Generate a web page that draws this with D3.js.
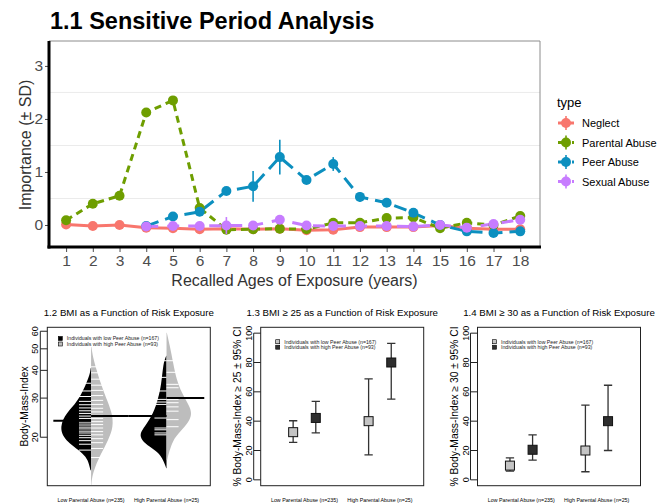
<!DOCTYPE html>
<html>
<head>
<meta charset="utf-8">
<script src="https://cdn.jsdelivr.net/npm/d3@7"></script>
<style>
  body { margin: 0; background: #fff; }
  text { font-family: "Liberation Sans", Arial, Helvetica, sans-serif; }
</style>
</head>
<body>
<div id="chart"></div>
<script>
// Data
//=================================
// 1.1 sensitive period analysis (importance, +/- SD)
var ages = [1, 2, 3, 4, 5, 6, 7, 8, 9, 10, 11, 12, 13, 14, 15, 16, 17, 18];
var types = ["Neglect", "Parental Abuse", "Peer Abuse", "Sexual Abuse"];
var neglect = [0.01, -0.02, 0.0, -0.05, -0.06, -0.08, -0.07, -0.08, -0.07, -0.1, -0.09, -0.04, -0.04, -0.04, -0.01, -0.06, -0.08, -0.08];
var neglectSd = [0.03, 0.03, 0.03, 0.03, 0.03, 0.03, 0.03, 0.03, 0.03, 0.03, 0.03, 0.03, 0.03, 0.03, 0.03, 0.03, 0.03, 0.03];
var parental = [0.09, 0.40, 0.55, 2.12, 2.35, 0.32, -0.09, -0.08, -0.07, -0.08, 0.04, 0.04, 0.13, 0.14, -0.06, 0.04, 0.0, 0.17];
var parentalSd = [0.03, 0.03, 0.03, 0.03, 0.03, 0.06, 0.03, 0.03, 0.03, 0.03, 0.03, 0.03, 0.03, 0.03, 0.03, 0.03, 0.03, 0.03];
var peer = [null, null, null, -0.02, 0.16, 0.25, 0.64, 0.73, 1.28, 0.85, 1.15, 0.53, 0.42, 0.23, 0.0, -0.12, -0.15, -0.12];
var peerSd = [null, null, null, 0.02, 0.03, 0.04, 0.04, 0.29, 0.33, 0.04, 0.13, 0.09, 0.03, 0.05, 0.02, 0.02, 0.02, 0.02];
var sexual = [null, null, null, -0.03, -0.02, -0.02, -0.01, -0.01, 0.1, -0.01, -0.02, -0.02, -0.02, -0.03, 0.0, -0.05, 0.02, 0.1];
var sexualSd = [null, null, null, 0.02, 0.02, 0.02, 0.16, 0.02, 0.03, 0.02, 0.02, 0.02, 0.02, 0.02, 0.02, 0.02, 0.02, 0.02];
var yTicks = [0, 1, 2, 3];
var yGrid = [0.5, 1.5, 2.5];

// bottom row shared labels
var parentalGroups = ["Low Parental Abuse (n=235)", "High Parental Abuse (n=25)"];
var peerGroups = ["Individuals with low Peer Abuse (n=167)", "Individuals with high Peer Abuse (n=93)"];

// 1.2 bean plot: density profiles (BMI, relative density)
var lowParLowPeerBmi = [14.2, 15.8, 16.9, 18.1, 19.4, 20.8, 22.3, 24.1, 25.7, 27.6, 30, 34.6, 38, 41];
var lowParLowPeerDens = [0.02, 0.1, 0.27, 0.57, 0.83, 0.97, 1.0, 0.93, 0.8, 0.6, 0.39, 0.17, 0.05, 0.01];
var lowParHighPeerBmi = [12.2, 13.2, 14.7, 16.9, 19.4, 22.3, 25.7, 30, 34.6, 40.6, 46, 51];
var lowParHighPeerDens = [0.01, 0.03, 0.13, 0.33, 0.57, 0.74, 0.7, 0.5, 0.33, 0.17, 0.06, 0.01];
var highParLowPeerBmi = [14.5, 15.2, 16.9, 18.1, 19.4, 20.8, 22.3, 25.7, 29.8, 34.6, 43.1, 46.5];
var highParLowPeerDens = [0.01, 0.06, 0.22, 0.56, 0.83, 0.89, 0.72, 0.43, 0.28, 0.17, 0.11, 0.01];
var highParHighPeerBmi = [15.8, 17.3, 19.4, 20.8, 22.3, 24.1, 25.7, 27.6, 31.7, 36.4, 43.1, 51.6, 59];
var highParHighPeerDens = [0.02, 0.09, 0.22, 0.39, 0.61, 0.78, 0.83, 0.76, 0.5, 0.33, 0.22, 0.11, 0.01];
// individual observations (bean lines)
var lowParLowPeerObs = [17.5, 18.6, 19.3, 19.9, 20.4, 20.9, 21.3, 21.8, 22.2, 22.7, 23.2, 23.7, 24.3, 24.9, 25.6, 26.3, 27.1, 28, 29, 30.5, 32.3, 35];
var lowParHighPeerObs = [16.2, 17.8, 18.9, 19.7, 20.5, 21.2, 22, 22.8, 23.5, 24.3, 25.1, 26, 27, 28.1, 29.3, 30.8, 32.5, 34.3, 36.5, 39, 41.5];
var highParLowPeerObs = [20.5, 20.9, 21.6, 22, 24.4, 28.1, 28.8, 29.6, 32.3, 37.2, 44.2];
var highParHighPeerObs = [22.3, 24, 26.2, 27.4, 28.6, 29.6, 33.4, 34.6, 39.2, 44.2];
// bean averages [low parental, high parental]
var bmiMeanLowPeer = [23.7, 24.9];
var bmiMeanHighPeer = [24.9, 30.0];
var bmiTicks = [20, 30, 40, 50, 60];

// 1.3 BMI >= 25 (% with 95% CI) [low parental, high parental]
var bmi25LowPeer = [32.5, 40];
var bmi25LowPeerLo = [25.5, 17];
var bmi25LowPeerHi = [40.3, 68.8];
var bmi25HighPeer = [42.2, 80];
var bmi25HighPeerLo = [32, 55];
var bmi25HighPeerHi = [53.5, 93];

// 1.4 BMI >= 30
var bmi30LowPeer = [9.7, 20];
var bmi30LowPeerLo = [6, 5.5];
var bmi30LowPeerHi = [15, 51];
var bmi30HighPeer = [20.5, 40];
var bmi30HighPeerLo = [13.5, 20];
var bmi30HighPeerHi = [30.7, 64.5];
var pctTicks = [0, 20, 40, 60, 80, 100];

// Canvas
//=================================
var svgWidth = 666;
var svgHeight = 504;

var svg = d3.select("#chart")
  .append("svg")
  .attr("width", svgWidth)
  .attr("height", svgHeight);

svg.append("rect").attr("width", svgWidth).attr("height", svgHeight).attr("fill", "#fff");

// 1.1 Sensitive period panel
//=================================
var p1 = {left: 49, right: 540, top: 41, bottom: 247};

var colors = d3.scaleOrdinal()
  .domain(types)
  .range(["#F8766D", "#6E9E00", "#0C8FBF", "#C77CFF"]);
var dashes = d3.scaleOrdinal()
  .domain(types)
  .range(["none", "7,5", "13,7", "12,9"]);

var series = [
  {name: types[0], values: neglect, sd: neglectSd},
  {name: types[1], values: parental, sd: parentalSd},
  {name: types[2], values: peer, sd: peerSd},
  {name: types[3], values: sexual, sd: sexualSd}
];

var xAge = d3.scaleLinear()
  .domain([0.36, 18.74])
  .range([p1.left, p1.right]);

var yImp = d3.scaleLinear()
  .domain([-0.415, 3.47])
  .range([p1.bottom, p1.top]);

svg.append("text")
  .attr("x", 50)
  .attr("y", 29)
  .style("font-size", "23.5px")
  .style("font-weight", "bold")
  .attr("fill", "#000")
  .text("1.1 Sensitive Period Analysis");

// gridlines
svg.append("g")
  .selectAll("line")
  .data(yGrid)
  .enter()
  .append("line")
  .attr("x1", p1.left)
  .attr("x2", p1.right)
  .attr("y1", d => yImp(d))
  .attr("y2", d => yImp(d))
  .attr("stroke", "#ebebeb")
  .attr("stroke-width", 1);

// panel border (top/right)
svg.append("path")
  .attr("d", `M${p1.left},${p1.top}H${p1.right}V${p1.bottom}`)
  .attr("fill", "none")
  .attr("stroke", "#8c8c8c")
  .attr("stroke-width", 1);

// axes
var bottomAxis = d3.axisBottom(xAge).tickValues(ages).tickSize(4).tickPadding(3);
var leftAxis = d3.axisLeft(yImp).tickValues(yTicks).tickFormat(d3.format("d")).tickSize(3).tickPadding(2);

var gx = svg.append("g")
  .attr("transform", `translate(0, ${p1.bottom + 1})`)
  .call(bottomAxis);
gx.select(".domain").remove();
gx.selectAll("line").attr("stroke", "#4d4d4d");
gx.selectAll("text").style("font-size", "15.5px").attr("fill", "#4d4d4d");

var gy = svg.append("g")
  .attr("transform", `translate(${p1.left - 1}, 0)`)
  .call(leftAxis);
gy.select(".domain").remove();
gy.selectAll("line").attr("stroke", "#4d4d4d");
gy.selectAll("text").style("font-size", "15.5px").attr("fill", "#4d4d4d");

svg.append("line")
  .attr("x1", p1.left).attr("x2", p1.left)
  .attr("y1", p1.top).attr("y2", p1.bottom + 1.5)
  .attr("stroke", "#000").attr("stroke-width", 3);
svg.append("line")
  .attr("x1", p1.left - 1.5).attr("x2", p1.right + 1)
  .attr("y1", p1.bottom).attr("y2", p1.bottom)
  .attr("stroke", "#000").attr("stroke-width", 3);

// axis titles
svg.append("text")
  .attr("transform", `translate(31, ${(p1.top + p1.bottom) / 2 + 1}) rotate(-90)`)
  .attr("text-anchor", "middle")
  .style("font-size", "16px")
  .attr("fill", "#333")
  .text("Importance (\u00b1 SD)");

svg.append("text")
  .attr("x", (p1.left + p1.right) / 2)
  .attr("y", 286)
  .attr("text-anchor", "middle")
  .style("font-size", "16px")
  .attr("fill", "#333")
  .text("Recalled Ages of Exposure (years)");

// lines
var line = d3.line()
  .defined(d => d.v !== null)
  .x(d => xAge(d.age))
  .y(d => yImp(d.v));

function rows(s) {
  return ages.map((a, i) => ({age: a, v: s.values[i], sd: s.sd[i]}));
}

svg.append("g")
  .selectAll("path")
  .data(series)
  .enter()
  .append("path")
  .attr("d", s => line(rows(s)))
  .attr("fill", "none")
  .attr("stroke", s => colors(s.name))
  .attr("stroke-width", 3)
  .attr("stroke-dasharray", s => dashes(s.name));

// point ranges
series.forEach(function(s) {
  var pts = rows(s).filter(d => d.v !== null);
  var g = svg.append("g");
  g.selectAll("line")
    .data(pts)
    .enter()
    .append("line")
    .attr("x1", d => xAge(d.age))
    .attr("x2", d => xAge(d.age))
    .attr("y1", d => yImp(d.v - d.sd))
    .attr("y2", d => yImp(d.v + d.sd))
    .attr("stroke", colors(s.name))
    .attr("stroke-width", 1.6);
  g.selectAll("circle")
    .data(pts)
    .enter()
    .append("circle")
    .attr("cx", d => xAge(d.age))
    .attr("cy", d => yImp(d.v))
    .attr("r", 5)
    .attr("fill", colors(s.name));
});

// legend
var legend = svg.append("g").attr("transform", "translate(557, 0)");
legend.append("text")
  .attr("x", 0)
  .attr("y", 107)
  .style("font-size", "13px")
  .attr("fill", "#000")
  .text("type");

var items = legend.selectAll(".item")
  .data(types)
  .enter()
  .append("g")
  .attr("transform", (d, i) => `translate(0, ${123 + i * 19.5})`);
items.append("line")
  .attr("x1", 1).attr("x2", 17).attr("y1", 0).attr("y2", 0)
  .attr("stroke", d => colors(d))
  .attr("stroke-width", 3)
  .attr("stroke-dasharray", d => dashes(d) === "none" ? "none" : "5,2");
items.append("line")
  .attr("x1", 9).attr("x2", 9).attr("y1", -7).attr("y2", 7)
  .attr("stroke", d => colors(d))
  .attr("stroke-width", 1.6);
items.append("circle")
  .attr("cx", 9).attr("cy", 0).attr("r", 5)
  .attr("fill", d => colors(d));
items.append("text")
  .attr("x", 25)
  .attr("y", 4)
  .style("font-size", "11px")
  .attr("fill", "#000")
  .text(d => d);

// Bottom row helpers
//=================================
function panelFrame(box, title, yLabel, yScale, ticks) {
  var g = svg.append("g");
  g.append("text")
    .attr("x", (box.left + box.right) / 2)
    .attr("y", 316)
    .attr("text-anchor", "middle")
    .style("font-size", "9.7px")
    .attr("fill", "#000")
    .text(title);

  g.append("rect")
    .attr("x", box.left).attr("y", box.top)
    .attr("width", box.right - box.left).attr("height", box.bottom - box.top)
    .attr("fill", "none").attr("stroke", "#222").attr("stroke-width", 1);

  g.selectAll(".tick")
    .data(ticks)
    .enter()
    .append("line")
    .attr("x1", box.left - 7).attr("x2", box.left)
    .attr("y1", d => yScale(d)).attr("y2", d => yScale(d))
    .attr("stroke", "#222").attr("stroke-width", 1);
  g.append("line")
    .attr("x1", box.left - 7).attr("x2", box.left - 7)
    .attr("y1", yScale(ticks[0])).attr("y2", yScale(ticks[ticks.length - 1]))
    .attr("stroke", "#222").attr("stroke-width", 1);

  g.selectAll(".tlab")
    .data(ticks)
    .enter()
    .append("text")
    .attr("transform", d => `translate(${box.left - 9}, ${yScale(d)}) rotate(-90)`)
    .attr("text-anchor", "middle")
    .style("font-size", "9px")
    .attr("fill", "#000")
    .text(d => d);

  g.append("text")
    .attr("transform", `translate(${box.left - 19.5}, ${(box.top + box.bottom) / 2}) rotate(-90)`)
    .attr("text-anchor", "middle")
    .style("font-size", "10.3px")
    .attr("fill", "#000")
    .text(yLabel);
  return g;
}

function groupLabels(xScale) {
  svg.append("g")
    .selectAll("text")
    .data(parentalGroups)
    .enter()
    .append("text")
    .attr("x", (d, i) => xScale(i + 1))
    .attr("y", 502)
    .attr("text-anchor", "middle")
    .style("font-size", "5.3px")
    .attr("fill", "#000")
    .text(d => d);
}

function peerLegend(x, y, fills) {
  var lg = svg.append("g").attr("transform", `translate(${x}, ${y})`);
  var it = lg.selectAll("g")
    .data(peerGroups)
    .enter()
    .append("g")
    .attr("transform", (d, i) => `translate(0, ${i * 5.5})`);
  it.append("rect")
    .attr("x", -2).attr("y", -2).attr("width", 4).attr("height", 4)
    .attr("fill", (d, i) => fills[i]).attr("stroke", "#000").attr("stroke-width", 0.6);
  it.append("text")
    .attr("x", 6.5).attr("y", 1.8)
    .style("font-size", "5.2px")
    .attr("fill", "#222")
    .text(d => d);
}

// 1.2 Bean plot
//=================================
var box2 = {left: 47.3, right: 210.3, top: 327.3, bottom: 485.7};
var xBean = d3.scaleLinear().domain([0.42, 2.58]).range([box2.left, box2.right]);
var yBmi = d3.scaleLog().domain([12.1, 62.5]).range([box2.bottom, box2.top]);
var beanHalf = 0.4;   // max half-width in group units
var obsLen = 0.16;    // bean line length
var avgLen = 0.5;     // average line length

panelFrame(box2, "1.2 BMI as a Function of Risk Exposure", "Body-Mass-Index", yBmi, bmiTicks);

var beans = [
  {pos: 1, side: -1, bmi: lowParLowPeerBmi, dens: lowParLowPeerDens, obs: lowParLowPeerObs, fill: "#000"},
  {pos: 1, side: 1, bmi: lowParHighPeerBmi, dens: lowParHighPeerDens, obs: lowParHighPeerObs, fill: "#bdbdbd"},
  {pos: 2, side: -1, bmi: highParLowPeerBmi, dens: highParLowPeerDens, obs: highParLowPeerObs, fill: "#000"},
  {pos: 2, side: 1, bmi: highParHighPeerBmi, dens: highParHighPeerDens, obs: highParHighPeerObs, fill: "#bdbdbd"}
];

var beanArea = d3.area()
  .curve(d3.curveBasis)
  .y(d => yBmi(d.b))
  .x0(d => xBean(d.pos))
  .x1(d => xBean(d.pos + d.side * d.w * beanHalf));

beans.forEach(function(bn) {
  var pts = bn.bmi.map((b, i) => ({b: b, w: bn.dens[i], pos: bn.pos, side: bn.side}));
  svg.append("path")
    .attr("d", beanArea(pts))
    .attr("fill", bn.fill)
    .attr("stroke", "none");
});

beans.forEach(function(bn) {
  svg.append("g")
    .selectAll("line")
    .data(bn.obs)
    .enter()
    .append("line")
    .attr("x1", xBean(bn.pos))
    .attr("x2", xBean(bn.pos + bn.side * obsLen))
    .attr("y1", d => yBmi(d))
    .attr("y2", d => yBmi(d))
    .attr("stroke", "#fff")
    .attr("stroke-width", 1);
});

// bean averages
[bmiMeanLowPeer, bmiMeanHighPeer].forEach(function(means, k) {
  var side = k === 0 ? -1 : 1;
  svg.append("g")
    .selectAll("line")
    .data(means)
    .enter()
    .append("line")
    .attr("x1", (d, i) => xBean(i + 1))
    .attr("x2", (d, i) => xBean(i + 1 + side * avgLen))
    .attr("y1", d => yBmi(d))
    .attr("y2", d => yBmi(d))
    .attr("stroke", "#000")
    .attr("stroke-width", 2);
});

peerLegend(box2.left + 13, 338.5, ["#000", "#bdbdbd"]);
groupLabels(xBean);

// 1.3 / 1.4 proportion panels
//=================================
function ciPanel(box, title, yLabel, lowEst, lowLo, lowHi, highEst, highLo, highHi) {
  var x = d3.scaleLinear().domain([0.42, 2.58]).range([box.left, box.right]);
  var y = d3.scaleLinear().domain([-4, 104]).range([box.bottom, box.top]);
  panelFrame(box, title, yLabel, y, pctTicks);

  var pts = [];
  lowEst.forEach((v, i) => pts.push({x: i + 1 - 0.15, v: v, lo: lowLo[i], hi: lowHi[i], fill: "#c4c4c4"}));
  highEst.forEach((v, i) => pts.push({x: i + 1 + 0.15, v: v, lo: highLo[i], hi: highHi[i], fill: "#2e2e2e"}));

  var g = svg.append("g");
  g.selectAll(".bar")
    .data(pts)
    .enter()
    .append("path")
    .attr("d", d => `M${x(d.x)},${y(d.lo)}V${y(d.hi)}` +
      `M${x(d.x - 0.055)},${y(d.lo)}H${x(d.x + 0.055)}` +
      `M${x(d.x - 0.055)},${y(d.hi)}H${x(d.x + 0.055)}`)
    .attr("fill", "none")
    .attr("stroke", "#333")
    .attr("stroke-width", 1.3);
  g.selectAll("rect")
    .data(pts)
    .enter()
    .append("rect")
    .attr("x", d => x(d.x) - 4.5)
    .attr("y", d => y(d.v) - 4.5)
    .attr("width", 9)
    .attr("height", 9)
    .attr("fill", d => d.fill)
    .attr("stroke", "#111")
    .attr("stroke-width", 1);

  peerLegend(box.left + 17, 341.7, ["#c4c4c4", "#2e2e2e"]);
  groupLabels(x);
}

ciPanel({left: 260.7, right: 423.7, top: 327.3, bottom: 485.7},
  "1.3 BMI \u2265 25 as a Function of Risk Exposure",
  "% Body-Mass-Index \u2265 25 \u00b1 95% CI",
  bmi25LowPeer, bmi25LowPeerLo, bmi25LowPeerHi, bmi25HighPeer, bmi25HighPeerLo, bmi25HighPeerHi);

ciPanel({left: 477.5, right: 640.5, top: 327.3, bottom: 485.7},
  "1.4 BMI \u2265 30 as a Function of Risk Exposure",
  "% Body-Mass-Index \u2265 30 \u00b1 95% CI",
  bmi30LowPeer, bmi30LowPeerLo, bmi30LowPeerHi, bmi30HighPeer, bmi30HighPeerLo, bmi30HighPeerHi);
</script>
</body>
</html>
